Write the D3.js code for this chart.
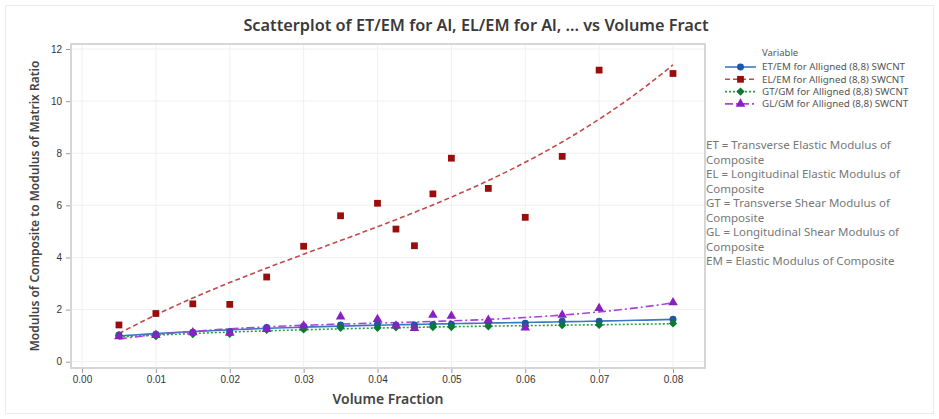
<!DOCTYPE html>
<html>
    <head>
        <meta charset="utf-8">
        <style type="text/css">
            body {
                margin: 0;
                background: #fff;
                font-family: "Noto Sans", "Open Sans", sans-serif;
            }
            .grid line {
                stroke: #f0f0f0;
                stroke-width: 1;
            }
            .axis path {
                display: none;
            }
            .axis line {
                stroke: #999;
            }
            .axis text {
                fill: #333;
                font-size: 10px;
            }
            .fit {
                fill: none;
                stroke-width: 1.6;
            }
        </style>
        <script src="https://d3js.org/d3.v7.min.js"></script>
    </head>
    <body>
        <svg width="939" height="419"></svg>
        <script>
            // Data
            let volFrac = [0.005, 0.01, 0.015, 0.02, 0.025, 0.03, 0.035, 0.04, 0.0425, 0.045, 0.0475, 0.05, 0.055, 0.06, 0.065, 0.07, 0.08];
            let etEm = [1.03, 1.05, 1.13, 1.16, 1.31, 1.36, 1.41, 1.43, 1.40, 1.41, 1.43, 1.44, 1.50, 1.48, 1.55, 1.55, 1.63];
            let elEm = [1.41, 1.85, 2.22, 2.20, 3.25, 4.43, 5.60, 6.08, 5.09, 4.45, 6.44, 7.81, 6.65, 5.54, 7.88, 11.19, 11.06];
            let gtGm = [1.00, 0.98, 1.06, 1.07, 1.22, 1.24, 1.30, 1.30, 1.32, 1.32, 1.33, 1.33, 1.36, 1.36, 1.40, 1.41, 1.47];
            let glGm = [0.97, 1.02, 1.12, 1.10, 1.25, 1.38, 1.73, 1.63, 1.38, 1.28, 1.79, 1.75, 1.60, 1.30, 1.79, 2.05, 2.27];
            let xTicks = [0, 0.01, 0.02, 0.03, 0.04, 0.05, 0.06, 0.07, 0.08];
            let yTicks = [0, 2, 4, 6, 8, 10, 12];
            let notes = [
                "ET = Transverse Elastic Modulus of", "Composite",
                "EL = Longitudinal Elastic Modulus of", "Composite",
                "GT = Transverse Shear Modulus of", "Composite",
                "GL = Longitudinal Shear Modulus of", "Composite",
                "EM = Elastic Modulus of Composite"
            ];

            let series = [
                {name: "ET/EM for Alligned (8,8) SWCNT", vals: etEm, mark: "#1d57a3", line: "#3a78c4", dash: null,      sym: d3.symbolCircle,   size: 38},
                {name: "EL/EM for Alligned (8,8) SWCNT", vals: elEm, mark: "#990d0d", line: "#c24a4a", dash: "5,3",     sym: d3.symbolSquare,   size: 46},
                {name: "GT/GM for Alligned (8,8) SWCNT", vals: gtGm, mark: "#0b7a30", line: "#2b9e48", dash: "2,2",     sym: d3.symbolDiamond2, size: 44},
                {name: "GL/GM for Alligned (8,8) SWCNT", vals: glGm, mark: "#8a1fc4", line: "#a944d8", dash: "8,3,2,3", sym: d3.symbolTriangle, size: 40}
            ];

            let svg = d3.select("svg");
            let box = {left: 71, right: 705, top: 44, bottom: 368};

            let x = d3.scaleLinear().domain([0, 0.08]).range([82, 673]);
            let y = d3.scaleLinear().domain([0, 12]).range([361.7, 49]);

            // outer figure border
            svg.append("rect")
                .attr("x", 5.5).attr("y", 5.5)
                .attr("width", 928).attr("height", 408)
                .attr("fill", "none").attr("stroke", "#ececec");

            // grid
            let grid = svg.append("g").attr("class", "grid");
            grid.selectAll(".gx").data(xTicks).enter().append("line")
                .attr("x1", d => x(d)).attr("x2", d => x(d))
                .attr("y1", box.top).attr("y2", box.bottom);
            grid.selectAll(".gy").data(yTicks).enter().append("line")
                .attr("x1", box.left).attr("x2", box.right)
                .attr("y1", d => y(d)).attr("y2", d => y(d));

            // frame
            svg.append("rect")
                .attr("x", box.left).attr("y", box.top)
                .attr("width", box.right - box.left).attr("height", box.bottom - box.top)
                .attr("fill", "none").attr("stroke", "#d6d6d6").attr("stroke-width", 2);

            // axes
            svg.append("g")
                .attr("class", "axis")
                .attr("transform", "translate(0," + (box.bottom + 1) + ")")
                .call(d3.axisBottom(x).tickValues(xTicks).tickFormat(d3.format(".2f")).tickSize(4).tickPadding(3));
            svg.append("g")
                .attr("class", "axis")
                .attr("transform", "translate(" + (box.left - 1) + ",0)")
                .call(d3.axisLeft(y).tickValues(yTicks).tickSize(4).tickPadding(4));

            // cubic least squares fit (gaussian elimination on normal equations)
            function polyFit (xs, ys, deg) {
                let n = deg + 1;
                let m = d3.range(n).map(r => d3.range(n + 1).map(() => 0));
                xs.forEach((xv, i) => {
                    for (let r = 0; r < n; r++) {
                        for (let c = 0; c < n; c++) m[r][c] += Math.pow(xv, r + c);
                        m[r][n] += ys[i] * Math.pow(xv, r);
                    }
                });
                for (let i = 0; i < n; i++) {
                    for (let j = i + 1; j < n; j++) {
                        let f = m[j][i] / m[i][i];
                        for (let k = i; k <= n; k++) m[j][k] -= f * m[i][k];
                    }
                }
                let coef = new Array(n).fill(0);
                for (let i = n - 1; i >= 0; i--) {
                    let v = m[i][n];
                    for (let k = i + 1; k < n; k++) v -= m[i][k] * coef[k];
                    coef[i] = v / m[i][i];
                }
                return xv => coef.reduce((acc, c, k) => acc + c * Math.pow(xv, k), 0);
            }

            let xs = d3.range(0, 61).map(i => d3.min(volFrac) + i * (d3.max(volFrac) - d3.min(volFrac)) / 60);
            let line = d3.line().x(d => x(d[0])).y(d => y(d[1]));

            series.forEach(s => {
                let f = polyFit(volFrac, s.vals, 3);
                svg.append("path")
                    .attr("class", "fit")
                    .attr("d", line(xs.map(v => [v, f(v)])))
                    .attr("stroke", s.line)
                    .attr("stroke-dasharray", s.dash);
            });
            series.forEach(s => {
                svg.append("g").selectAll("path")
                    .data(s.vals).enter().append("path")
                    .attr("d", d3.symbol().type(s.sym).size(s.size))
                    .attr("transform", (d, i) => "translate(" + x(volFrac[i]) + "," + y(d) + ")")
                    .attr("fill", s.mark);
            });

            // titles
            svg.append("text")
                .attr("x", 476).attr("y", 31)
                .attr("text-anchor", "middle")
                .style("font-size", "16.3px").style("font-weight", 600).style("fill", "#3a3a3a")
                .text("Scatterplot of ET/EM for Al, EL/EM for Al, ... vs Volume Fract");
            svg.append("text")
                .attr("x", 388).attr("y", 404)
                .attr("text-anchor", "middle")
                .style("font-size", "14px").style("font-weight", 600).style("fill", "#444")
                .text("Volume Fraction");
            svg.append("text")
                .attr("transform", "translate(39," + (box.top + box.bottom) / 2 + ") rotate(-90)")
                .attr("text-anchor", "middle")
                .style("font-size", "12px").style("font-weight", 600).style("fill", "#444")
                .text("Modulus of Composite to Modulus of Matrix Ratio");

            // legend
            let leg = svg.append("g").attr("transform", "translate(725,0)");
            leg.append("text")
                .attr("x", 37).attr("y", 56)
                .style("font-size", "9.5px").style("fill", "#555")
                .text("Variable");
            series.forEach((s, i) => {
                let ly = 67 + i * 12.3;
                leg.append("line")
                    .attr("x1", 0).attr("x2", 31).attr("y1", ly).attr("y2", ly)
                    .attr("stroke", s.line).attr("stroke-width", 1.6)
                    .attr("stroke-dasharray", s.dash);
                leg.append("path")
                    .attr("d", d3.symbol().type(s.sym).size(s.size))
                    .attr("transform", "translate(15.5," + ly + ")")
                    .attr("fill", s.mark);
                leg.append("text")
                    .attr("x", 37).attr("y", ly + 3.3)
                    .style("font-size", "9.8px").style("fill", "#555")
                    .text(s.name);
            });

            svg.append("g").selectAll("text")
                .data(notes).enter().append("text")
                .attr("x", 706).attr("y", (d, i) => 149 + i * 14.5)
                .style("font-size", "11.5px").style("fill", "#777")
                .text(d => d);
        </script>
    </body>
</html>
